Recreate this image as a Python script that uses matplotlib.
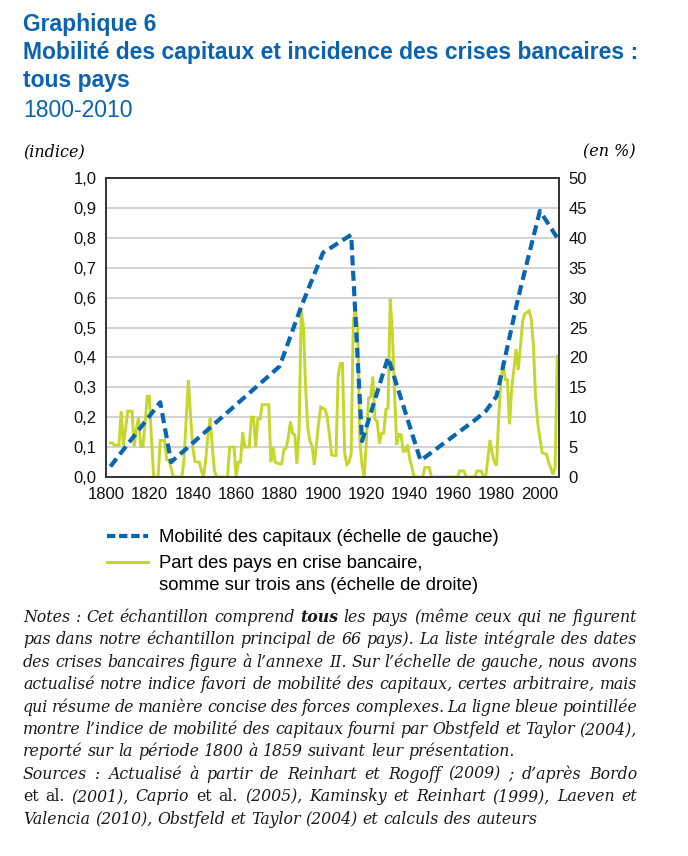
import numpy as np
import matplotlib
matplotlib.use('Agg')
import matplotlib.pyplot as plt
from matplotlib.lines import Line2D

# --- data ---
mob_years = [1802, 1825, 1830, 1880, 1890, 1900, 1913, 1918, 1930, 1945, 1970, 1975, 1980, 1990, 2000, 2008]
mob_index = [0.035, 0.25, 0.05, 0.37, 0.57, 0.75, 0.81, 0.12, 0.40, 0.055, 0.19, 0.22, 0.27, 0.60, 0.89, 0.80]

crisis_years = list(range(1802, 2009))
crisis_share = [
    5.7, 5.7, 5.3, 5.3, 5.3, 11.0, 5.3, 8.0,                      # 1802-1809
    11.0, 11.0, 11.0, 5.1, 8.0, 10.0, 5.1, 5.1, 9.0, 13.5,         # 1810s
    13.5, 6.0, 0, 0, 0, 6.1, 6.1, 6.1, 2.9, 2.8,                   # 1820s
    1.5, 0, 0, 0, 0, 0, 3.0, 10.0, 16.2, 10.0,                     # 1830s
    5.0, 2.6, 2.5, 2.5, 1.0, 0, 3.0, 7.0, 10.0, 5.0,               # 1840s
    1.0, 0, 0, 0, 0, 0, 0, 5.0, 5.0, 5.0,                          # 1850s
    0, 2.5, 2.5, 7.5, 5.0, 5.0, 5.0, 10.0, 10.0, 5.0,              # 1860s
    9.7, 9.7, 12.1, 12.1, 12.1, 12.1, 2.5, 5.0, 2.5, 2.3,          # 1870s
    2.2, 2.2, 4.6, 4.8, 6.5, 9.3, 7.3, 7.0, 2.2, 8.0,              # 1880s
    27.8, 25.2, 15.0, 8.2, 6.0, 5.2, 2.0, 5.5, 9.0, 11.7,          # 1890s
    11.5, 11.3, 10.0, 7.0, 3.7, 3.6, 3.6, 16.9, 19.0, 19.0,        # 1900s
    4.0, 2.1, 2.5, 4.0, 26.1, 28.1, 25.0, 6.1, 2.0, 0,             # 1910s
    6.0, 13.2, 13.4, 16.8, 9.6, 9.3, 5.6, 7.3, 7.3, 11.3,          # 1920s
    11.5, 29.8, 24.2, 14.1, 5.4, 7.1, 7.1, 4.3, 4.3, 5.4,          # 1930s
    3.0, 1.7, 0, 0, 0, 0, 0, 1.6, 1.6, 1.6,                        # 1940s
    0, 0, 0, 0, 0, 0, 0, 0, 0, 0,                                  # 1950s
    0, 0, 0, 1.0, 1.0, 1.0, 0, 0, 0, 0,                            # 1960s
    0, 1.0, 1.0, 1.0, 0, 0, 3.0, 6.2, 4.0, 2.5,                    # 1970s
    1.9, 10.0, 16.0, 19.2, 16.3, 16.3, 8.8, 14.8, 18.0, 21.4,      # 1980s
    17.9, 21.7, 26.0, 27.3, 27.5, 27.8, 26.5, 22.0, 13.4, 9.0,     # 1990s
    6.6, 4.1, 3.9, 3.8, 2.5, 1.5, 0.4, 1.5, 20.2,                  # 2000-2008
]

left_ticks = [0.0, 0.1, 0.2, 0.3, 0.4, 0.5, 0.6, 0.7, 0.8, 0.9, 1.0]
right_ticks = [0, 5, 10, 15, 20, 25, 30, 35, 40, 45, 50]
x_ticks = list(range(1800, 2001, 10))

title_lines = ["Graphique 6",
               "Mobilité des capitaux et incidence des crises bancaires :",
               "tous pays"]
subtitle = "1800-2010"
legend_mob = "Mobilité des capitaux (échelle de gauche)"
legend_crisis = ["Part des pays en crise bancaire,", "somme sur trois ans (échelle de droite)"]

notes = [
    ([("Notes : Cet échantillon comprend ", "italic", "normal"), ("tous", "italic", "bold"),
      (" les pays (même ceux qui ne figurent", "italic", "normal")], True),
    ([("pas dans notre échantillon principal de 66 pays). La liste intégrale des dates", "italic", "normal")], True),
    ([("des crises bancaires figure à l’annexe II. Sur l’échelle de gauche, nous avons", "italic", "normal")], True),
    ([("actualisé notre indice favori de mobilité des capitaux, certes arbitraire, mais", "italic", "normal")], True),
    ([("qui résume de manière concise des forces complexes. La ligne bleue pointillée", "italic", "normal")], True),
    ([("montre l’indice de mobilité des capitaux fourni par Obstfeld et Taylor (2004),", "italic", "normal")], True),
    ([("reporté sur la période 1800 à 1859 suivant leur présentation.", "italic", "normal")], False),
    ([("Sources : Actualisé à partir de Reinhart et Rogoff (2009) ; d’après Bordo", "italic", "normal")], True),
    ([("et al.", "normal", "normal"), (" (2001), Caprio ", "italic", "normal"), ("et al.", "normal", "normal"),
      (" (2005), Kaminsky et Reinhart (1999), Laeven et", "italic", "normal")], True),
    ([("Valencia (2010), Obstfeld et Taylor (2004) et calculs des auteurs", "italic", "normal")], False),
]

BLUE = '#0866b2'
GREEN = '#c5d72c'
TITLE_BLUE = '#0b62ad'
SANS = ['Liberation Sans', 'DejaVu Sans']
SERIF = ['DejaVu Serif']

W, H = 688, 856
plt.rcParams['font.family'] = SANS

fig = plt.figure(figsize=(W / 100, H / 100), dpi=100)
fig.patch.set_facecolor('white')

def fx(x):
    return x / W

def fy(y):
    return 1 - y / H

# plot area in pixels: left 106, right 559, top 178, bottom 477
ax = fig.add_axes([fx(106), fy(477), (559 - 106) / W, (477 - 178) / H])
ax2 = ax.twinx()

# grid and green line live on ax2, blue line on ax drawn above
ax2.set_xlim(1800, 2008.8)
ax2.set_ylim(0, 50)
ax2.set_yticks(right_ticks)
ax2.set_xticks(x_ticks)
ax2.grid(True, color='#cccccc', linewidth=1.2)
ax2.set_axisbelow(True)
ax2.plot(crisis_years, crisis_share, color=GREEN, linewidth=2.1, solid_joinstyle='miter')

ax.set_zorder(ax2.get_zorder() + 1)
ax.patch.set_visible(False)
ax2.patch.set_visible(False)
ax.set_xlim(1800, 2008.8)
ax.set_ylim(0, 1.0)
ax.set_yticks(left_ticks)
ax.set_yticklabels([f"{v:.1f}".replace('.', ',') for v in left_ticks])
ax.set_xticks(x_ticks)
ax.set_xticklabels([str(y) if y % 20 == 0 else '' for y in x_ticks])
ax.plot(mob_years, mob_index, color=BLUE, linewidth=3.0, linestyle=(0, (2.4, 1.3)))

for a in (ax, ax2):
    a.tick_params(length=0, labelsize=12, colors='#111111', pad=7)
    for s in a.spines.values():
        s.set_color('#333333')
        s.set_linewidth(1.2)

# --- titles ---
fig.text(fx(23), fy(31), title_lines[0], fontsize=16.5, weight='bold', color=TITLE_BLUE, va='baseline')
fig.text(fx(23), fy(59), title_lines[1], fontsize=16.5, weight='bold', color=TITLE_BLUE, va='baseline')
fig.text(fx(23), fy(87), title_lines[2], fontsize=16.5, weight='bold', color=TITLE_BLUE, va='baseline')
fig.text(fx(23), fy(117), subtitle, fontsize=16.5, color=TITLE_BLUE, va='baseline')

fig.text(fx(23), fy(156), "(indice)", fontsize=11.5, style='italic', family=SERIF, va='baseline')
fig.text(fx(636), fy(156), "(en %)", fontsize=11.5, style='italic', family=SERIF, va='baseline', ha='right')

# --- legend ---
fig.add_artist(Line2D([fx(107), fx(148)], [fy(536), fy(536)], color=BLUE, linewidth=3.0,
                      linestyle=(0, (2.0, 0.9))))
fig.add_artist(Line2D([fx(107), fx(148)], [fy(562), fy(562)], color=GREEN, linewidth=2.1))
fig.text(fx(159), fy(542.5), legend_mob, fontsize=13.3, va='baseline')
fig.text(fx(159), fy(568.5), legend_crisis[0], fontsize=13.3, va='baseline')
fig.text(fx(159), fy(589.5), legend_crisis[1], fontsize=13.3, va='baseline')

# --- notes, justified word by word ---
renderer = fig.canvas.get_renderer()
NOTE_FS = 11.3

def measure(txt, st, wt):
    t = fig.text(0, 0, txt, fontsize=NOTE_FS, family=SERIF, style=st, weight=wt)
    w = t.get_window_extent(renderer).width
    t.remove()
    return w

space_w = measure("x x", "italic", "normal") - measure("xx", "italic", "normal")

def note_line(segs, y, justify, x0=23, x1=637):
    words = []
    for txt, st, wt in segs:
        for w in txt.split():
            words.append((w, st, wt))
    arts, widths = [], []
    for w, st, wt in words:
        t = fig.text(0, 0, w, fontsize=NOTE_FS, family=SERIF, style=st, weight=wt,
                     va='baseline', ha='left', color='#1a1a1a')
        arts.append(t)
        widths.append(t.get_window_extent(renderer).width)
    gap = (x1 - x0 - sum(widths)) / (len(words) - 1) if justify else space_w
    x = x0
    for t, wd in zip(arts, widths):
        t.set_position((fx(x), fy(y)))
        x += wd + gap

y = 622
for segs, just in notes:
    note_line(segs, y, just)
    y += 22.4

fig.savefig('out.png', dpi=100, facecolor='white')
